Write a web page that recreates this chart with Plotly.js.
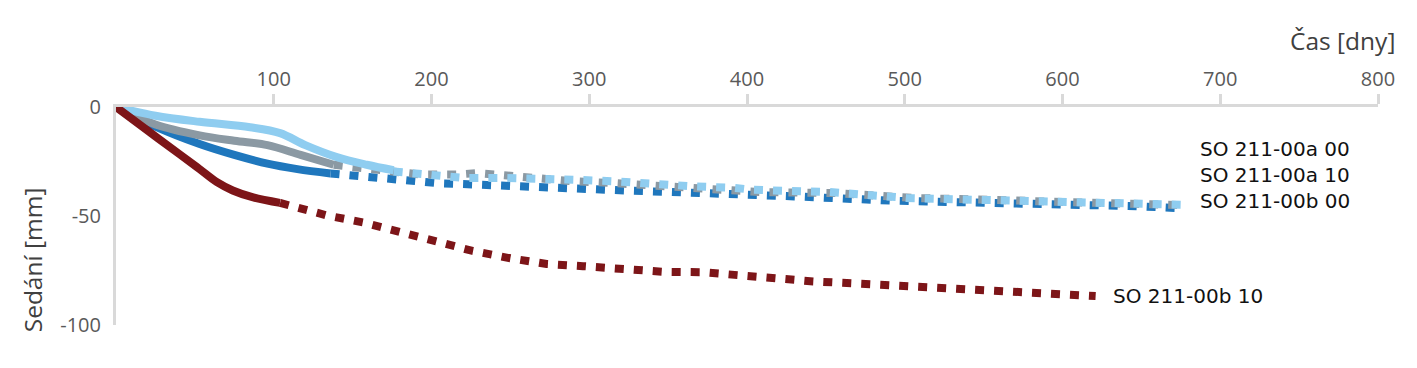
<!DOCTYPE html>
<html>
<head>
<meta charset="utf-8">
<script src="https://cdn.plot.ly/plotly-3.0.1.min.js"></script>
<style>html,body{margin:0;padding:0;background:#fff;}#chart{width:1417px;height:368px;}</style>
</head>
<body>
<div id="chart"></div>
<script>
// ---- data (days, settlement in mm) ----
const names = ["SO 211-00a 00", "SO 211-00a 10", "SO 211-00b 00", "SO 211-00b 10"];

const a00_solid_x = [0, 25, 53, 75, 96, 115, 136];
const a00_solid_y = [0, -9, -17, -22, -26, -28.5, -30.5];
const a00_dot_x = [136, 157, 180, 205, 229, 254, 277, 300, 326, 349, 374, 397, 430, 493, 565, 647, 676];
const a00_dot_y = [-30.5, -32, -34, -35, -35.6, -36.5, -37, -38, -38.4, -38.9, -39.4, -39.8, -41, -43, -44, -45.5, -46.5];

const a10_solid_x = [0, 25, 53, 75, 96, 117, 138];
const a10_solid_y = [0, -8, -13, -15.5, -17.5, -22, -26.5];
const a10_dot_x = [138, 167, 193, 216, 229, 241, 264, 288, 313, 336, 360, 385, 408, 457, 505, 553, 600, 649, 676];
const a10_dot_y = [-26.5, -28.8, -31, -31, -30.3, -31, -32.6, -34, -34.8, -35.6, -37, -38, -39, -39.5, -41.7, -42.6, -43.6, -44, -45];

const b00_solid_x = [0, 25, 53, 85, 104, 120, 140, 159, 176];
const b00_solid_y = [0, -4, -6.8, -9.3, -12, -17.5, -23, -26.5, -29];
const b00_dot_x = [176, 201, 222, 248, 271, 296, 319, 345, 368, 391, 404, 452, 501, 548, 596, 643, 679];
const b00_dot_y = [-29.6, -31, -32.6, -32.6, -32.6, -33.5, -34.2, -35.6, -36.5, -37, -38, -39, -41.7, -42.6, -43.6, -44, -44.9];

const b10_solid_x = [0, 20, 40, 53, 64, 74, 87, 104];
const b10_solid_y = [0, -10.8, -21.5, -28.5, -34.5, -38.3, -41.5, -44];
const b10_dot_x = [104, 134, 157, 180, 203, 226, 250, 273, 296, 321, 347, 372, 406, 442, 478, 514, 550, 586, 621];
const b10_dot_y = [-44, -49.8, -53, -57.5, -62, -66, -69.4, -72, -73, -74.4, -75.6, -75.8, -78, -80, -81.3, -82.6, -84.4, -85.8, -86.7];

const xTicks = [100, 200, 300, 400, 500, 600, 700, 800];
const yTicks = [0, -50, -100];

// label anchor positions (data coords): stacked group of three, then the lone one
const groupLabelX = 686, groupLabelY = -31.1;
const loneLabelX = 631, loneLabelY = -86.8;

// ---- styles ----
const colors = ["#1f77bd", "#8b99a3", "#8fcdf0", "#7d1518"];
const LW = 8;
const DOT = "9px,10px";

function solid(x, y, c, n) {
  return {x: x, y: y, mode: "lines", name: n, showlegend: false, hoverinfo: "skip",
    line: {color: c, width: LW, shape: "spline", smoothing: 1}};
}
function dotted(x, y, c, n) {
  return {x: x, y: y, mode: "lines", name: n, showlegend: false, hoverinfo: "skip",
    line: {color: c, width: LW, dash: DOT}};
}

const traces = [
  solid(a00_solid_x, a00_solid_y, colors[0], names[0]),
  dotted(a00_dot_x, a00_dot_y, colors[0], names[0]),
  solid(a10_solid_x, a10_solid_y, colors[1], names[1]),
  dotted(a10_dot_x, a10_dot_y, colors[1], names[1]),
  solid(b00_solid_x, b00_solid_y, colors[2], names[2]),
  dotted(b00_dot_x, b00_dot_y, colors[2], names[2]),
  solid(b10_solid_x, b10_solid_y, colors[3], names[3]),
  dotted(b10_dot_x, b10_dot_y, colors[3], names[3])
];

const FONT = "Open Sans, Noto Sans, sans-serif";
const LFONT = "DejaVu Sans, sans-serif";

const annotations = [
  {x: groupLabelX, y: groupLabelY, xref: "x", yref: "y", text: names.slice(0, 3).join("<br>"),
   showarrow: false, xanchor: "left", yanchor: "middle", align: "left",
   font: {family: LFONT, size: 20, color: "#111111"}},
  {x: loneLabelX, y: loneLabelY, xref: "x", yref: "y", text: names[3],
   showarrow: false, xanchor: "left", yanchor: "middle",
   font: {family: LFONT, size: 20, color: "#111111"}},
  {x: 1.015, y: 1.307, xref: "paper", yref: "paper", text: "Čas [dny]", showarrow: false,
   xanchor: "right", yanchor: "middle", font: {family: FONT, size: 24.5, color: "#404040"}},
  {x: -0.066, y: 0.3, xref: "paper", yref: "paper", text: "Sedání [mm]", showarrow: false,
   textangle: -90, xanchor: "center", yanchor: "middle", font: {family: FONT, size: 24.5, color: "#404040"}}
];

const layout = {
  width: 1417, height: 368,
  margin: {l: 116, r: 39, t: 107, b: 43},
  paper_bgcolor: "#ffffff", plot_bgcolor: "#ffffff",
  showlegend: false,
  xaxis: {
    side: "top", range: [0, 800], tickvals: xTicks, ticktext: xTicks.map(String),
    showgrid: false, zeroline: false, showline: true, linecolor: "#d9d9d9", linewidth: 3,
    ticks: "outside", ticklen: 10, tickwidth: 3, tickcolor: "#d9d9d9",
    tickfont: {family: FONT, size: 20, color: "#595959"}
  },
  yaxis: {
    range: [-100, 0], tickvals: yTicks, ticktext: yTicks.map(String),
    showgrid: false, zeroline: false, showline: true, linecolor: "#d9d9d9", linewidth: 3,
    ticks: "", ticklabelstandoff: 8,
    tickfont: {family: FONT, size: 20, color: "#595959"}
  },
  annotations: annotations
};

Plotly.newPlot("chart", traces, layout, {staticPlot: true, displayModeBar: false});
</script>
</body>
</html>
